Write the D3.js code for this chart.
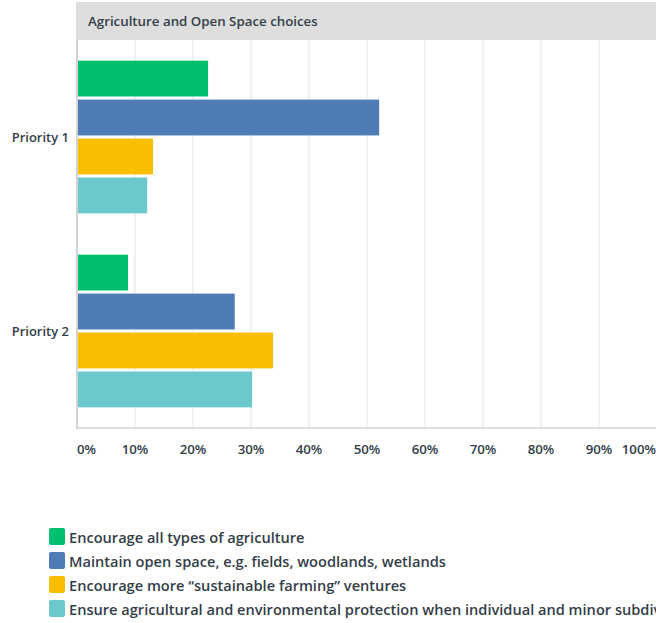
<!DOCTYPE html>
<html lang="en">
<head>
    <meta charset="UTF-8">
    <title>Agriculture and Open Space choices</title>
    <script src="https://d3js.org/d3.v7.min.js"></script>
    <style>
        body { margin: 0; padding: 0; background: #fff; }
        svg { display: block; font-family: "Open Sans", sans-serif; }
    </style>
</head>
<body>
<script>
    // Data
    const title = "Agriculture and Open Space choices";
    const categories = ["Priority 1", "Priority 2"];
    const seriesNames = [
        "Encourage all types of agriculture",
        "Maintain open space, e.g. fields, woodlands, wetlands",
        "Encourage more \u201csustainable farming\u201d ventures",
        "Ensure agricultural and environmental protection when individual and minor subdivisions are proposed"
    ];
    const seriesColors = ["#00bf6f", "#507cb6", "#f9be00", "#6bc8cd"];
    const priority1 = [22.6, 52.1, 13.1, 12.1];
    const priority2 = [8.8, 27.2, 33.8, 30.2];
    const tickValues = [0, 10, 20, 30, 40, 50, 60, 70, 80, 90, 100];

    const values = [priority1, priority2];

    const width = 656, height = 623;
    const plot = { left: 77, right: 657, top: 40, bottom: 428 };

    const svg = d3.select("body").append("svg")
        .attr("width", width)
        .attr("height", height);

    const x = d3.scaleLinear().domain([0, 100]).range([plot.left, plot.right]);
    const y = d3.scaleBand().domain(categories).range([plot.top, plot.bottom]).paddingInner(0).paddingOuter(0);
    const inner = d3.scaleBand().domain(d3.range(seriesNames.length))
        .range([0, y.bandwidth()]).paddingOuter(0.53).paddingInner(0.08);

    // header bar
    svg.append("rect")
        .attr("x", plot.left - 1).attr("y", 2)
        .attr("width", width - plot.left + 1).attr("height", 38)
        .attr("fill", "#dedede");
    svg.append("text")
        .attr("x", 88).attr("y", 21)
        .attr("dominant-baseline", "central")
        .attr("font-size", 13.3).attr("font-weight", 600)
        .attr("fill", "#333e48")
        .text(title);

    // grid lines
    svg.append("g").selectAll("line")
        .data(tickValues.slice(1))
        .join("line")
        .attr("x1", d => x(d)).attr("x2", d => x(d))
        .attr("y1", plot.top).attr("y2", plot.bottom)
        .attr("stroke", "#ececec").attr("stroke-width", 1.5);

    // bars
    const groups = svg.append("g").selectAll("g")
        .data(categories)
        .join("g")
        .attr("transform", d => `translate(0,${y(d)})`);

    groups.selectAll("rect")
        .data((d, i) => values[i].map((v, j) => ({ v, j })))
        .join("rect")
        .attr("x", x(0))
        .attr("y", d => inner(d.j))
        .attr("width", d => x(d.v) - x(0))
        .attr("height", inner.bandwidth())
        .attr("fill", d => seriesColors[d.j]);

    // axis lines
    svg.append("line")
        .attr("x1", plot.left).attr("x2", plot.left)
        .attr("y1", plot.top).attr("y2", plot.bottom + 1)
        .attr("stroke", "#d4d4d4").attr("stroke-width", 2);
    svg.append("line")
        .attr("x1", plot.left - 1).attr("x2", width)
        .attr("y1", plot.bottom).attr("y2", plot.bottom)
        .attr("stroke", "#d4d4d4").attr("stroke-width", 1.5);

    // category labels
    svg.append("g").selectAll("text")
        .data(categories)
        .join("text")
        .attr("x", 69)
        .attr("y", d => y(d) + y.bandwidth() / 2)
        .attr("text-anchor", "end")
        .attr("dominant-baseline", "central")
        .attr("font-size", 13).attr("font-weight", 600)
        .attr("fill", "#333e48")
        .text(d => d);

    // tick labels
    svg.append("g").selectAll("text")
        .data(tickValues)
        .join("text")
        .attr("x", (d, i) => i === 0 ? x(d) : i === tickValues.length - 1 ? width : x(d))
        .attr("y", 449)
        .attr("text-anchor", (d, i) => i === 0 ? "start" : i === tickValues.length - 1 ? "end" : "middle")
        .attr("dominant-baseline", "central")
        .attr("font-size", 13.3).attr("font-weight", 600)
        .attr("fill", "#333e48")
        .text(d => d + "%");

    // legend
    const legend = svg.append("g").selectAll("g")
        .data(seriesNames)
        .join("g")
        .attr("transform", (d, i) => `translate(49,${528 + i * 24})`);
    legend.append("rect")
        .attr("width", 16).attr("height", 17).attr("rx", 2)
        .attr("fill", (d, i) => seriesColors[i]);
    legend.append("text")
        .attr("x", 20).attr("y", 8.5)
        .attr("dominant-baseline", "central")
        .attr("font-size", 14.6).attr("font-weight", 600)
        .attr("fill", "#333e48")
        .text(d => d);
</script>
</body>
</html>
